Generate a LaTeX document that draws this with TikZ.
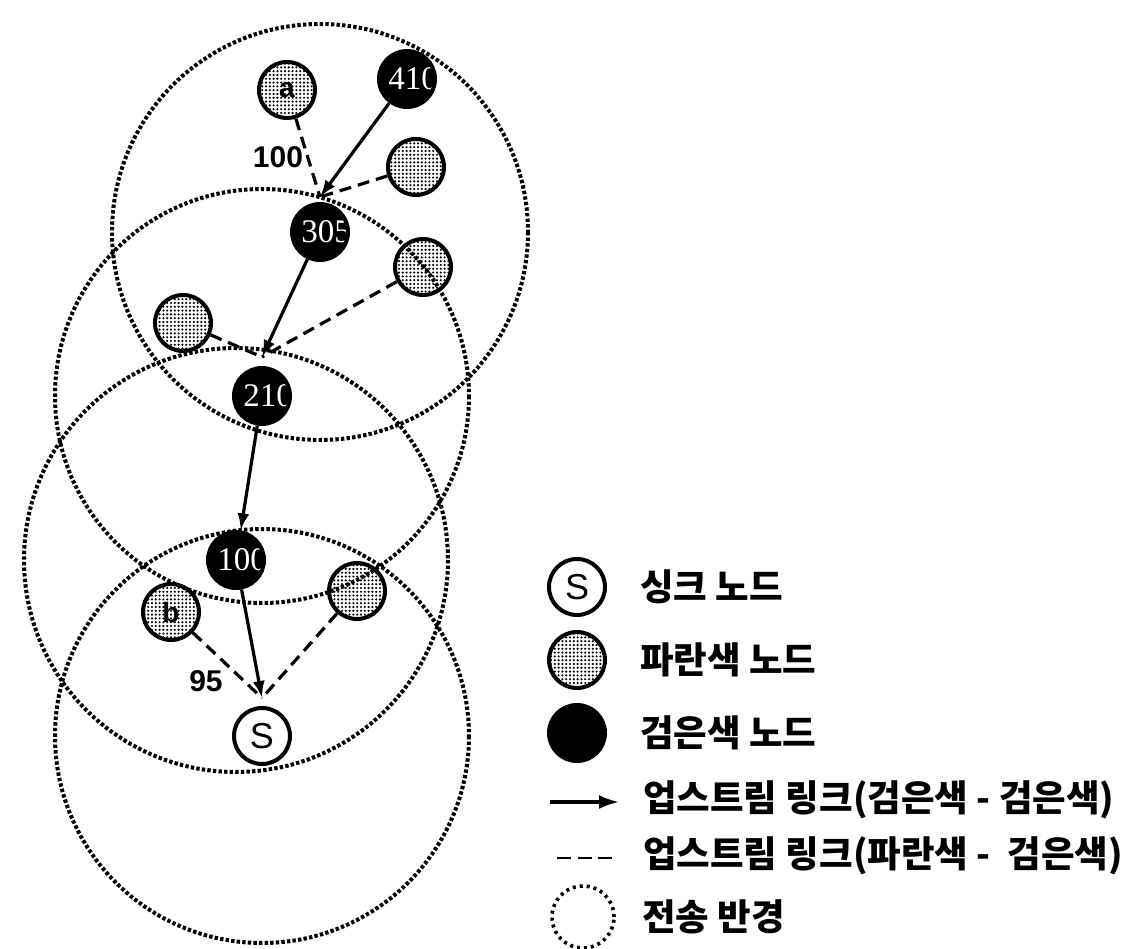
\documentclass[tikz,border=0pt]{standalone}
\usepackage{fontspec}
\usetikzlibrary{arrows.meta,patterns.meta}
\newfontfamily\krfont{Noto Sans CJK KR}
\newfontfamily\numserif{Liberation Serif}
\newfontfamily\labsans{Liberation Sans}

% fine stipple used for the grey (blue-class) nodes
\pgfdeclarepattern{
  name=stipple,
  type=uncolored,
  bottom left={\pgfpoint{-2pt}{-2pt}},
  top right={\pgfpoint{2pt}{2pt}},
  tile size={\pgfpoint{3.8pt}{3.8pt}},
  code={\pgfpathcircle{\pgfpointorigin}{1.2pt}\pgfusepath{fill}}
}

\tikzset{
  nodebase/.style={circle, minimum size=56pt, inner sep=0pt, line width=4pt, draw=black},
  blacknode/.style={nodebase, fill=black,
    path picture={\node[text=white, inner sep=0pt,
      font=\numserif\fontsize{33}{33}\selectfont]
      at ([xshift=6pt]path picture bounding box.center) {#1};}},
  blacknode/.default={},
  graynode/.style={nodebase, preaction={fill=white}, pattern=stipple, pattern color=black,
    font=\labsans\bfseries\fontsize{28}{28}\selectfont},
  sinknode/.style={nodebase, fill=white, font=\labsans\fontsize{36}{36}\selectfont},
  linkbb/.style={line width=3.2pt, -{Latex[length=17pt,width=12pt]}},
  linkgb/.style={line width=3.2pt, dash pattern=on 12pt off 7pt},
  rangecircle/.style={line width=4pt, dash pattern=on 3.4pt off 2.2pt},
  weight/.style={inner sep=0pt, font=\labsans\bfseries\fontsize{30}{30}\selectfont},
  legtext/.style={anchor=west, inner sep=0pt, font=\krfont\bfseries\fontsize{36.5}{36.5}\selectfont},
}

\begin{document}
\begin{tikzpicture}[x=1pt, y=-1pt]
\useasboundingbox (0,0) rectangle (1137,949);
\fill[white] (0,0) rectangle (1137,949);

% nodes of the tree
\node[blacknode=410] (n410) at (407,79) {};
\node[graynode]      (na)   at (287,90) {a};
\node[graynode]      (ng1)  at (416,167) {};
\node[blacknode=305] (n305) at (320,232) {};
\node[graynode]      (ng2)  at (423,267) {};
\node[graynode]      (ng3)  at (183,323) {};
\node[blacknode=210] (n210) at (262,396) {};
\node[blacknode=100] (n100) at (236,560) {};
\node[graynode]      (nb)   at (171,612) {b};
\node[graynode]      (ng4)  at (357,591) {};
\node[sinknode]      (nS)   at (262,736) {S};

% meeting points just above each parent
\coordinate (t305) at ([yshift=5pt]n305.north);
\coordinate (t210) at ([yshift=9pt]n210.north);
\coordinate (tS)   at ([yshift=8pt]nS.north);

% upstream links, black to black
\draw[linkbb] (n410) -- (t305);
\draw[linkbb] (n305) -- (t210);
\draw[linkbb] (n210) -- (n100);
\draw[linkbb] (n100) -- (tS);

% upstream links, grey to black
\draw[linkgb] (na)  -- (t305);
\draw[linkgb] (ng1) -- (t305);
\draw[linkgb] (ng2) -- (t210);
\draw[linkgb] (ng3) -- (t210);
\draw[linkgb] (nb)  -- (tS);
\draw[linkgb] (ng4) -- (tS);

% link weights
\node[weight] (w100) at (278,157) {100};
\node[weight] (w95)  at (206,681) {95};

% transmission ranges
\draw[rangecircle] (n305) circle[radius=208];
\draw[rangecircle] (n210) circle[radius=207];
\draw[rangecircle] (n100) circle[radius=212];
\draw[rangecircle] (nS)   circle[radius=207];

% legend
\node[sinknode]  (lgS) at (577,587) {S};
\node[graynode]  (lgG) at (577,660) {};
\node[blacknode] (lgB) at (577,733) {};
\coordinate (la1) at (550,802);
\coordinate (la2) at (619,802);
\draw[line width=3.2pt, -{Latex[length=20pt,width=14pt]}] (la1) -- (la2);
\coordinate (ld1) at (557,858);
\coordinate (ld2) at (612,858);
\draw[line width=2.8pt, dash pattern=on 14pt off 6.5pt] (ld1) -- (ld2);
\node[circle, minimum size=62pt, inner sep=0pt, draw, line width=3.6pt,
      dash pattern=on 3pt off 4pt] (lgR) at (583,917) {};

\node[legtext] (tx1) at (640,587) {싱크 노드};
\node[legtext] (tx2) at (640,660) {파란색 노드};
\node[legtext] (tx3) at (640,733) {검은색 노드};
\node[legtext] (tx4) at (643,800) {업스트림 링크(검은색 - 검은색)};
\node[legtext] (tx5) at (643,856) {업스트림 링크(파란색 -~ 검은색)};
\node[legtext] (tx6) at (642,917) {전송 반경};
\end{tikzpicture}
\end{document}
